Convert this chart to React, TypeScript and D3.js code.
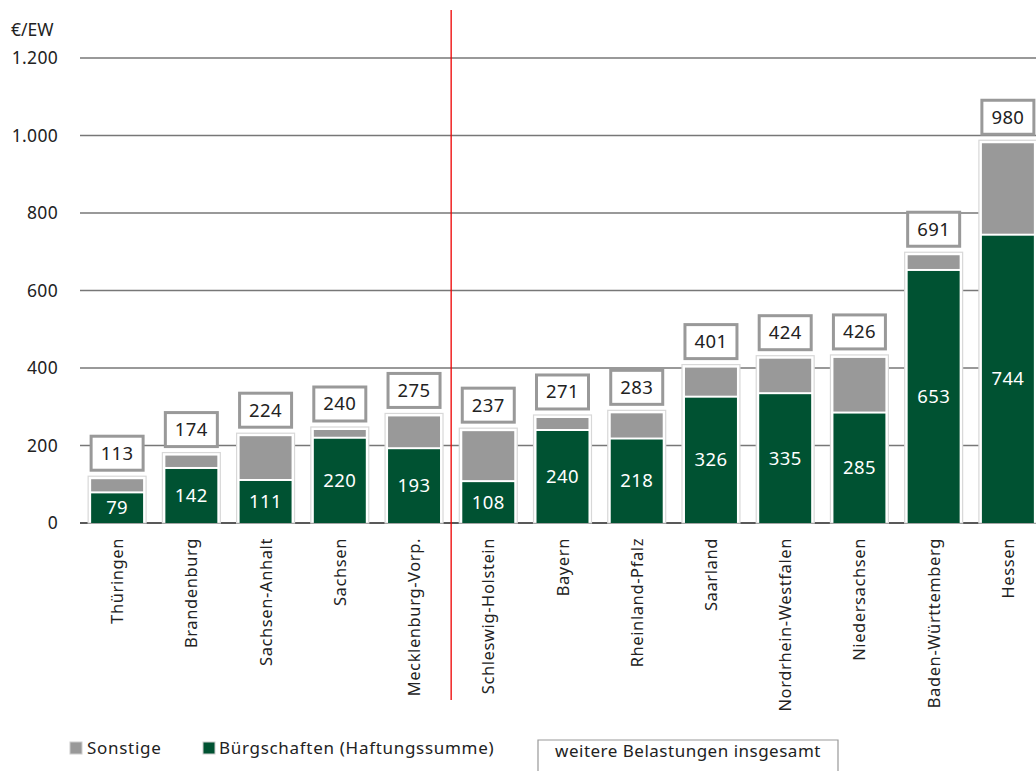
import React from 'react';
import * as d3 from 'd3';

const laender = [
  'Thüringen', 'Brandenburg', 'Sachsen-Anhalt', 'Sachsen', 'Mecklenburg-Vorp.',
  'Schleswig-Holstein', 'Bayern', 'Rheinland-Pfalz', 'Saarland', 'Nordrhein-Westfalen',
  'Niedersachsen', 'Baden-Württemberg', 'Hessen',
];
const buergschaften = [79, 142, 111, 220, 193, 108, 240, 218, 326, 335, 285, 653, 744];
const insgesamt = [113, 174, 224, 240, 275, 237, 271, 283, 401, 424, 426, 691, 980];
const yTicks = [0, 200, 400, 600, 800, 1000, 1200];

const W = 1036;
const H = 771;
const GREEN = '#005232';
const GRAY = '#999999';
const FONT = '"Noto Sans", "Open Sans", sans-serif';

const fmt = (v: number) => d3.format(',')(v).replace(/,/g, '.');

export default function App() {
  const x = d3.scaleBand<string>().domain(laender).range([80, 1045]).paddingInner(0.3).paddingOuter(0.15);
  const y = d3.scaleLinear().domain([0, 1200]).range([523, 58]);
  const bw = x.bandwidth();
  // red divider between east and west
  const divX = (x(laender[4])! + bw + x(laender[5])!) / 2;

  return (
    <svg width={W} height={H} style={{ position: 'absolute', left: 0, top: 0, background: '#fff' }} fontFamily={FONT}>
      {/* gridlines + tick labels */}
      {yTicks.map(t => (
        <g key={t}>
          <line x1={80} x2={W} y1={y(t)} y2={y(t)} stroke={t === 0 ? '#222' : '#777'} strokeWidth={1.3} />
          <text x={58} y={y(t)} dy="0.35em" textAnchor="end" fontSize={17.5} letterSpacing={0.3} fill="#222">{fmt(t)}</text>
        </g>
      ))}
      <text x={11} y={36} fontSize={17.5} fill="#222">€/EW</text>

      {/* bars */}
      {laender.map((l, i) => {
        const bx = x(l)!;
        const g = buergschaften[i];
        const tot = insgesamt[i];
        const cx = bx + bw / 2;
        return (
          <g key={l}>
            <rect x={bx - 3} y={y(tot) - 3} width={bw + 6} height={y(0) - y(tot) + 3} fill="#fff" stroke="#d8d8d8" strokeWidth={1.2} />
            <rect x={bx} y={y(tot)} width={bw} height={y(g) - y(tot) - 1} fill={GRAY} />
            <rect x={bx} y={y(g) + 1} width={bw} height={y(0) - y(g) - 1} fill={GREEN} />
            <text x={cx} y={(y(g) + y(0)) / 2} dy="0.35em" textAnchor="middle" fontSize={18.5} letterSpacing={0.4} fill="#fff">{g}</text>
            <rect x={cx - 26} y={y(tot) - 43} width={52} height={34} fill="#fff" stroke={GRAY} strokeWidth={3} />
            <text x={cx} y={y(tot) - 26} dy="0.35em" textAnchor="middle" fontSize={18.5} letterSpacing={0.4} fill="#222">{tot}</text>
            <text transform={`translate(${cx + 6},538) rotate(-90)`} textAnchor="end" fontSize={16.5} letterSpacing={0.6} fill="#222">{l}</text>
          </g>
        );
      })}

      <line x1={divX} x2={divX} y1={10} y2={700} stroke="#e00" strokeWidth={1.3} />

      {/* legend */}
      <rect x={70} y={742} width={12} height={12} fill={GRAY} stroke="#ccc" />
      <text x={87} y={748} dy="0.35em" fontSize={17} letterSpacing={0.7} fill="#222">Sonstige</text>
      <rect x={203} y={742} width={12} height={12} fill={GREEN} stroke="#ccc" />
      <text x={219} y={748} dy="0.35em" fontSize={17} letterSpacing={0.7} fill="#222">Bürgschaften (Haftungssumme)</text>
      <path d="M538,775 V740 H838 V775" fill="none" stroke="#999" strokeWidth={1.2} />
      <text x={688} y={751} dy="0.35em" textAnchor="middle" fontSize={17} letterSpacing={0.5} fill="#222">weitere Belastungen insgesamt</text>
    </svg>
  );
}
